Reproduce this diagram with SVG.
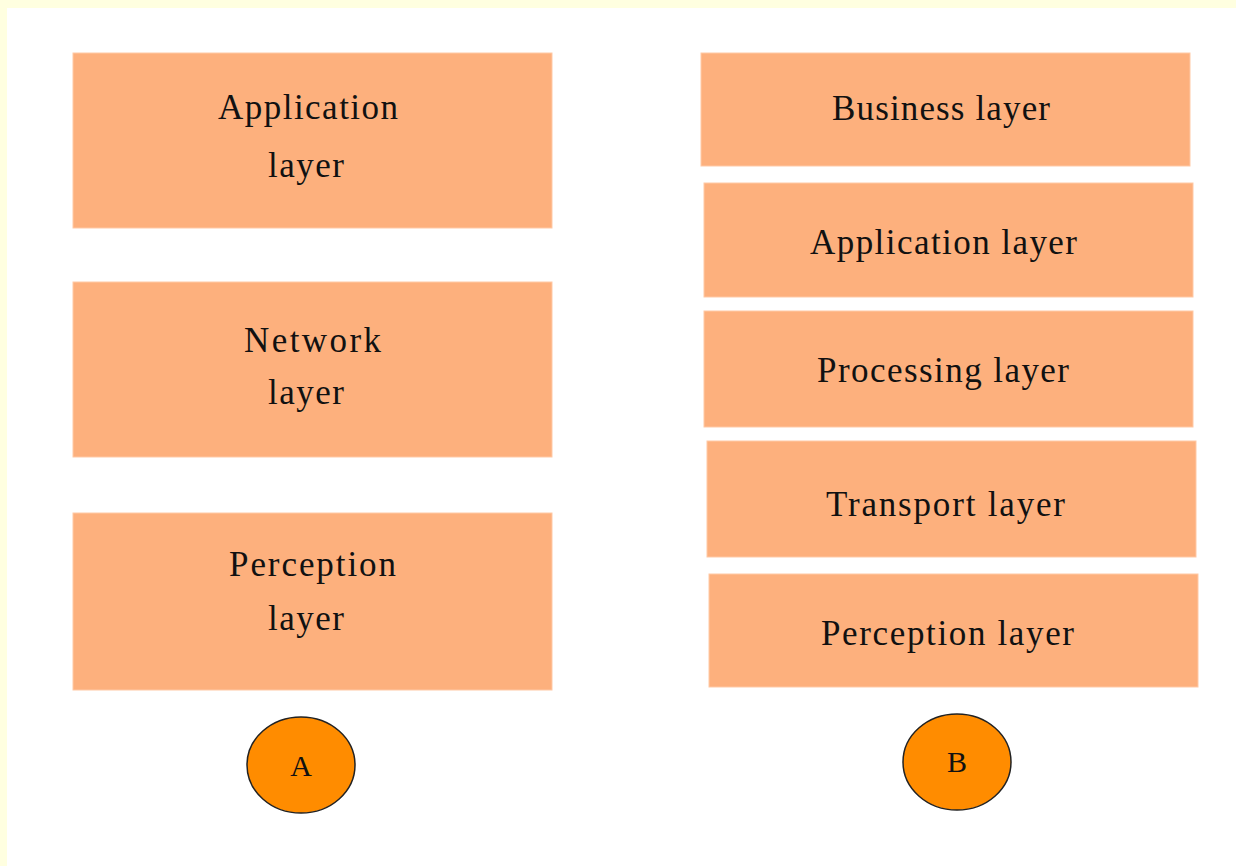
<svg xmlns="http://www.w3.org/2000/svg" width="1236" height="866" viewBox="0 0 1236 866">
<style>
.box{fill:#FDB07D;stroke:#FFC9A6;stroke-width:1}
.t{font-family:"Liberation Serif","Times New Roman",serif;font-size:35px;fill:#111;text-anchor:middle}
.c{fill:#FF8C00;stroke:#222;stroke-width:1.5}
.ct{font-family:"Liberation Serif","Times New Roman",serif;font-size:30px;fill:#111;text-anchor:middle}
</style>
<rect x="0" y="0" width="1236" height="866" fill="#ffffff"/>
<rect x="0" y="0" width="1236" height="8" fill="#FFFFE0"/>
<rect x="0" y="0" width="7" height="866" fill="#FFFFE0"/>
<g id="a-application"><rect class="box" x="73" y="53" width="479" height="175"/><text class="t" x="308" y="119" textLength="180">Application</text><text class="t" x="306" y="177" textLength="76">layer</text></g>
<g id="a-network"><rect class="box" x="73" y="282" width="479" height="175"/><text class="t" x="312.5" y="352" textLength="137">Network</text><text class="t" x="306" y="404" textLength="76">layer</text></g>
<g id="a-perception"><rect class="box" x="73" y="513" width="479" height="177"/><text class="t" x="312.5" y="576" textLength="167">Perception</text><text class="t" x="306" y="630" textLength="76">layer</text></g>
<g id="b-business"><rect class="box" x="701" y="53" width="489" height="113"/><text class="t" x="941" y="120" textLength="218">Business layer</text></g>
<g id="b-application"><rect class="box" x="704" y="183" width="489" height="114"/><text class="t" x="943.5" y="254" textLength="267">Application layer</text></g>
<g id="b-processing"><rect class="box" x="704" y="311" width="489" height="116"/><text class="t" x="943" y="382" textLength="252">Processing layer</text></g>
<g id="b-transport"><rect class="box" x="707" y="441" width="489" height="116"/><text class="t" x="945.5" y="516" textLength="239">Transport layer</text></g>
<g id="b-perception"><rect class="box" x="709" y="574" width="489" height="113"/><text class="t" x="947.5" y="645" textLength="253">Perception layer</text></g>
<g id="label-a"><ellipse class="c" cx="301" cy="765" rx="54" ry="48"/><text class="ct" x="301" y="776">A</text></g>
<g id="label-b"><ellipse class="c" cx="957" cy="762" rx="54" ry="48"/><text class="ct" x="957" y="772">B</text></g>
<g id="connectors"></g>
</svg>
